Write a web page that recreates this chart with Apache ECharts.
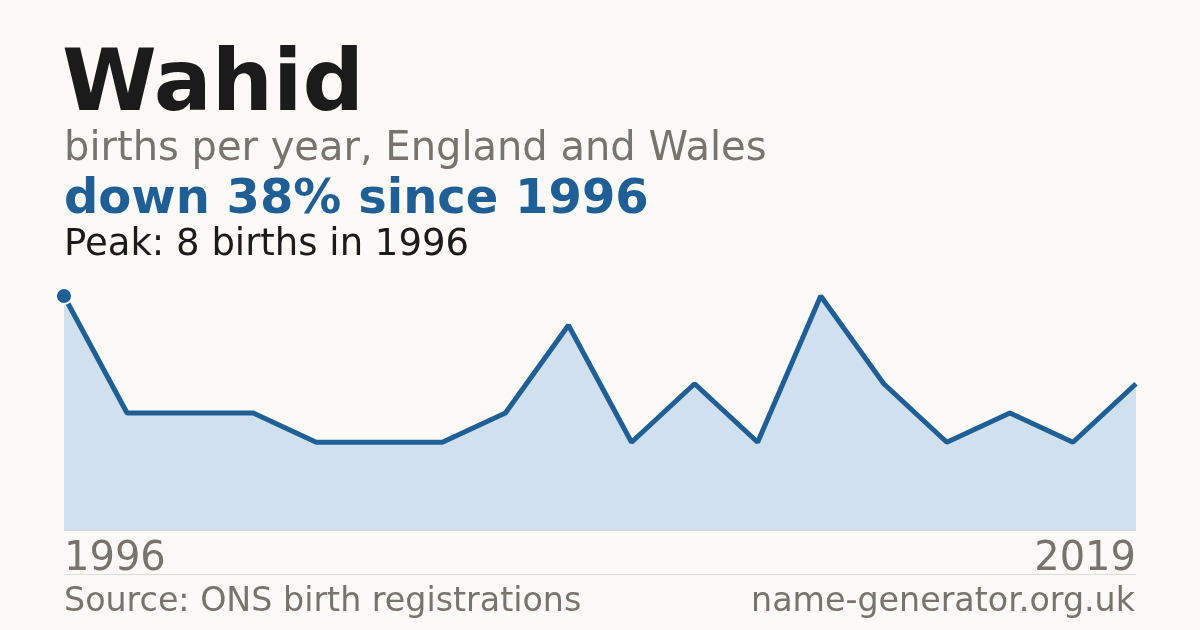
<!DOCTYPE html>
<html>
<head>
<meta charset="utf-8">
<script src="https://cdn.jsdelivr.net/npm/echarts@6/dist/echarts.min.js"></script>
<style>
  html, body { margin: 0; padding: 0; background: #fbfaf6; }
  #chart { width: 1200px; height: 630px; }
</style>
</head>
<body>
<div id="chart"></div>
<script>
// Births per year for the name
const years = ['1996', '1997', '1998', '1999', '2001', '2002', '2003', '2004', '2006',
               '2007', '2008', '2010', '2012', '2013', '2014', '2016', '2017', '2019']
const births = [8, 4, 4, 4, 3, 3, 3, 4, 7, 3, 5, 3, 8, 5, 3, 4, 3, 5]

const blue = '#1f5f96'
const grey = '#78736c'
const font = 'DejaVu Sans'

const chart = echarts.init(document.getElementById('chart'))

chart.setOption({
  backgroundColor: '#fbfaf6',
  animation: false,
  title: [
    { text: 'Wahid', left: 57, top: 40,
      textStyle: { fontFamily: font, fontSize: 86, fontWeight: 'bold', color: '#1b1b1b' } },
    { text: 'births per year, England and Wales', left: 59, top: 125,
      textStyle: { fontFamily: font, fontSize: 40, fontWeight: 'normal', color: grey } },
    { text: 'down 38% since 1996', left: 59, top: 172,
      textStyle: { fontFamily: font, fontSize: 48, fontWeight: 'bold', color: blue } },
    { text: 'Peak: 8 births in 1996', left: 59, top: 222,
      textStyle: { fontFamily: font, fontSize: 37, fontWeight: 'normal', color: '#1b1b1b' } },
    { text: 'Source: ONS birth registrations', left: 59, top: 581,
      textStyle: { fontFamily: font, fontSize: 33.3, fontWeight: 'normal', color: grey } },
    { text: 'name-generator.org.uk', right: 60, top: 581,
      textStyle: { fontFamily: font, fontSize: 33.3, fontWeight: 'normal', color: grey } }
  ],
  graphic: [
    { type: 'line', shape: { x1: 64, y1: 574.5, x2: 1136, y2: 574.5 },
      style: { stroke: '#dddbd4', lineWidth: 1 } }
  ],
  grid: { left: 64, right: 64, top: 296, bottom: 100 },
  xAxis: {
    type: 'category',
    data: years,
    boundaryGap: false,
    axisLine: { show: true, lineStyle: { color: '#dcdad3', width: 1 } },
    axisTick: { show: false },
    axisLabel: {
      interval: (i) => i === 0 || i === years.length - 1,
      alignMinLabel: 'left',
      alignMaxLabel: 'right',
      margin: 10,
      fontFamily: font, fontSize: 40, color: grey
    }
  },
  yAxis: {
    type: 'value', min: 0, max: 8,
    show: false, splitLine: { show: false }
  },
  series: [
    {
      type: 'line',
      data: births,
      showSymbol: false,
      z: 2,
      lineStyle: { color: blue, width: 5 },
      areaStyle: { color: '#d0e0ef', opacity: 1 }
    },
    {
      type: 'scatter',
      data: [[0, births[0]]],
      symbolSize: 16,
      z: 3,
      itemStyle: { color: blue, borderColor: '#fbfaf6', borderWidth: 2, opacity: 1 }
    }
  ]
})
</script>
</body>
</html>
